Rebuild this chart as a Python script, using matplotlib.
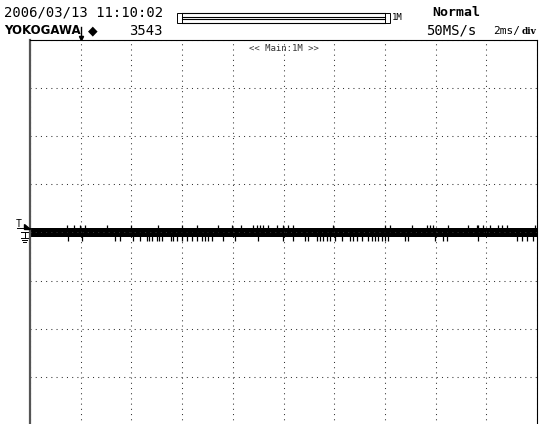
import matplotlib
matplotlib.use("Agg")
import matplotlib.pyplot as plt
from matplotlib.patches import Rectangle
import numpy as np

# screen: 10 x 8 divisions, trace sits on the centre line
x_divs = 10
y_divs = 8
band_top = 0.09
band_bottom = -0.10
spike_up_height = 0.15
spike_down_depth = -0.17

# positions of the glitches (in divisions from the left edge)
spikes_up = [0.73, 0.87, 0.99, 1.08, 1.52, 1.99, 2.52, 3.00, 3.29, 3.71, 3.98, 4.16,
             4.40, 4.48, 4.54, 4.60, 4.69, 4.87, 4.99, 5.09, 5.19, 5.98, 7.00, 7.10,
             7.53, 7.83, 7.89, 7.95, 8.24, 8.64, 8.82, 8.84, 8.93, 9.07, 9.23, 9.31,
             9.41, 9.96]
spikes_down = [0.75, 1.03, 1.68, 1.78, 2.03, 2.17, 2.31, 2.35, 2.41, 2.50, 2.54, 2.60,
               2.78, 2.82, 2.90, 3.00, 3.10, 3.20, 3.29, 3.39, 3.45, 3.51, 3.59, 3.81,
               4.04, 4.50, 4.99, 5.19, 5.42, 5.48, 5.66, 5.72, 5.78, 5.86, 5.92, 6.02,
               6.15, 6.31, 6.37, 6.45, 6.55, 6.67, 6.75, 6.80, 6.86, 6.94, 7.00, 7.06,
               7.40, 7.46, 7.99, 8.15, 8.22, 8.84, 9.61, 9.70, 9.80, 9.92]

date_text = "2006/03/13 11:10:02"
brand_text = "YOKOGAWA"
count_text = "3543"
mode_text = "Normal"
rate_text = "50MS/s"
timebase_text = "2ms/"
zoom_text = "<< Main:1M >>"
record_text = "1M"
trigger_pos = 1.0

W, H = 539, 424
fig = plt.figure(figsize=(W / 100, H / 100), dpi=100)


def fx(px):
    return px / W


def fy(py):
    return 1 - py / H


ax = fig.add_axes([fx(30), -0.002, fx(537) - fx(30), fy(40) + 0.002])
ax.set_xlim(0, x_divs)
ax.set_ylim(-y_divs / 2, y_divs / 2)
ax.set_xticks(np.arange(0, x_divs + 1))
ax.set_yticks(np.arange(-y_divs / 2, y_divs / 2 + 1))
ax.tick_params(length=0, labelbottom=False, labelleft=False)
ax.grid(True, color="#333333", linestyle=(0, (1, 4)), linewidth=0.75)
for side in ["top", "right"]:
    ax.spines[side].set_linewidth(0.8)
ax.spines["left"].set_linewidth(1.6)
ax.spines["left"].set_color("#555555")
ax.spines["bottom"].set_visible(False)

# the trace
ax.fill_between([0, x_divs], band_bottom, band_top, color="black", lw=0)
ax.vlines(spikes_up, 0, spike_up_height, color="black", lw=0.9)
ax.vlines(spikes_down, spike_down_depth, 0, color="black", lw=0.9)

ax.text(0.5, 0.99, zoom_text, transform=ax.transAxes, ha="center", va="top",
        family="DejaVu Sans Mono", fontsize=6.5, color="#333333")

# header text
mono = "DejaVu Sans Mono"
fig.text(fx(4), fy(12), date_text, family=mono, fontsize=10, va="center")
fig.text(fx(4), fy(31), brand_text, family="DejaVu Sans", fontsize=8.5,
         fontweight="bold", va="center")
fig.text(fx(88), fy(31), "\u25c6", family="DejaVu Sans", fontsize=9, va="center")
fig.text(fx(163), fy(31), count_text, family=mono, fontsize=10, va="center", ha="right")
fig.text(fx(432), fy(12), mode_text, family=mono, fontsize=9.5, va="center",
         fontweight="bold")
fig.text(fx(426), fy(31), rate_text, family=mono, fontsize=10, va="center")
fig.text(fx(493), fy(31), timebase_text, family=mono, fontsize=8, va="center")
fig.text(fx(522), fy(32), "div", family="DejaVu Serif", fontsize=6.5, va="center",
         fontweight="bold")
fig.text(fx(392), fy(17), record_text, family=mono, fontsize=6.5, va="center")

# record length bar
fig.add_artist(Rectangle((fx(177), fy(23)), fx(5), fy(13) - fy(23), fill=False,
                         lw=0.7, transform=fig.transFigure))
fig.add_artist(Rectangle((fx(385), fy(23)), fx(5), fy(13) - fy(23), fill=False,
                         lw=0.7, transform=fig.transFigure))
for py in [13, 17, 18.5, 23]:
    fig.add_artist(plt.Line2D([fx(182), fx(385)], [fy(py), fy(py)], color="black",
                              lw=0.8, transform=fig.transFigure))

# trigger position arrow under the header
tx = 30 + trigger_pos * 50.7
fig.add_artist(plt.Line2D([fx(tx), fx(tx)], [fy(27), fy(39)], color="black", lw=1,
                          transform=fig.transFigure))
fig.add_artist(plt.Line2D([fx(tx)], [fy(38)], marker="v", ms=3, color="black",
                          transform=fig.transFigure))

# trigger level and ground markers at the left
fig.text(fx(16), fy(224), "T", family=mono, fontsize=7, va="center")
fig.add_artist(plt.Polygon([[fx(24), fy(224)], [fx(24), fy(229)], [fx(30), fy(229)]],
                           color="black", transform=fig.transFigure))
fig.add_artist(plt.Line2D([fx(17), fx(30)], [fy(228.5), fy(228.5)], color="black",
                          lw=0.7, transform=fig.transFigure))
for xs, ys in [([21, 28], [232, 232]), ([24.5, 24.5], [232, 238]),
               ([21, 28], [238, 238]), ([22, 27], [240, 240]), ([23.5, 25.5], [242, 242])]:
    fig.add_artist(plt.Line2D([fx(v) for v in xs], [fy(v) for v in ys], color="black",
                              lw=0.7, transform=fig.transFigure))

fig.savefig("out.png", dpi=100)
